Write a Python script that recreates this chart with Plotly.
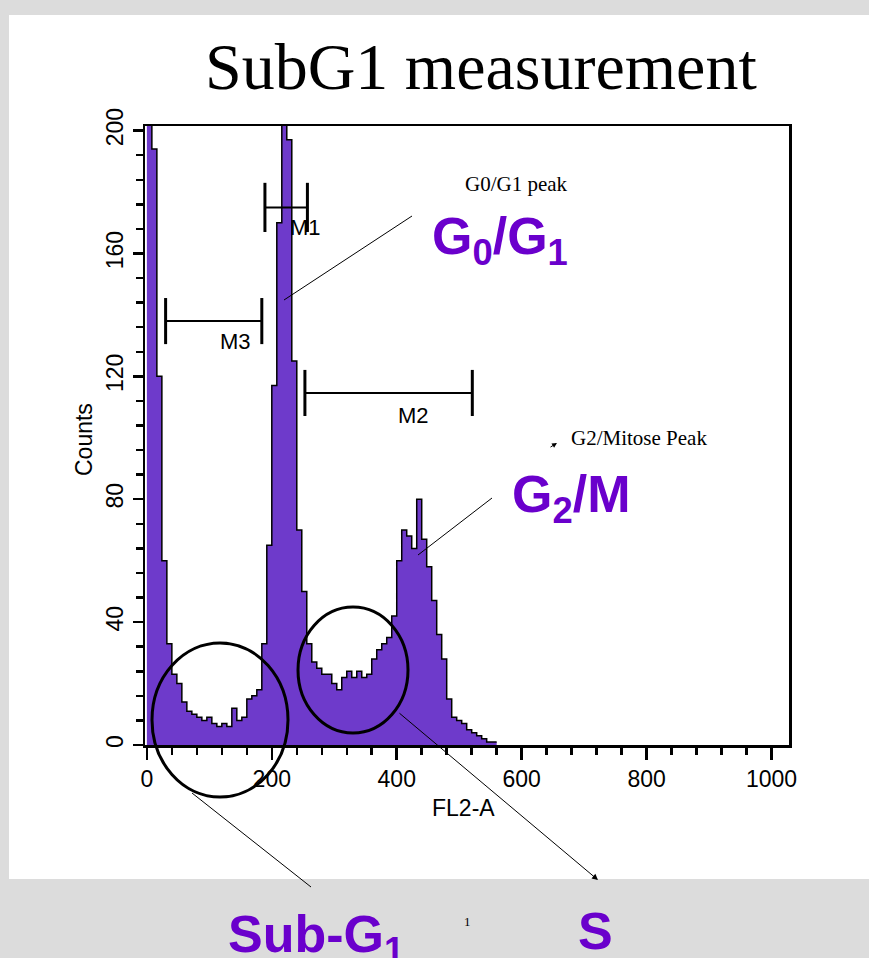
import plotly.graph_objects as go

W, H = 869, 958

# ---------------- data ----------------
bin_width = 8
counts = [230, 194, 120, 60, 33, 23, 20, 14, 11, 10,
          9, 8, 9, 7, 6, 7, 6, 12, 8, 9,
          15, 16, 18, 33, 65, 117, 170, 215, 197, 125,
          70, 50, 33, 27, 25, 23, 23, 20, 18, 22,
          24, 22, 24, 22, 23, 28, 31, 33, 35, 42,
          60, 70, 68, 64, 80, 67, 58, 47, 36, 28,
          15, 9, 8, 7, 5, 4, 3, 2, 1, 1]
bin_edges = [i * bin_width for i in range(len(counts) + 1)]

marker_names = ["M1", "M2", "M3"]
marker_start = [189, 253, 30]
marker_end = [257, 521, 184]
marker_level = [175, 114.6, 138]
marker_cap = [8, 7.5, 7.5]

x_ticks = [0, 200, 400, 600, 800, 1000]
y_ticks = [0, 40, 80, 120, 160, 200]

title_text = "SubG1 measurement"
x_title = "FL2-A"
y_title = "Counts"

PURPLE = "#6a00cc"
FILL = "#6e3acb"


def P(px, py):
    return px / W, 1 - py / H


fig = go.Figure()

# histogram as step area
xs = bin_edges
ys = counts + [counts[-1]]
fig.add_trace(go.Scatter(
    x=xs, y=ys, mode="lines", line_shape="hv",
    line=dict(color="black", width=1.5),
    fill="tozeroy", fillcolor=FILL, hoverinfo="skip", showlegend=False,
))

shapes = []
annotations = []

# white panel
x0, y0 = P(9, 15)
x1, y1 = P(869, 879)
shapes.append(dict(type="rect", xref="paper", yref="paper", x0=x0, x1=x1,
                   y0=y1, y1=y0, fillcolor="white", line_width=0, layer="below"))

# marker bars
for name, s, e, lv, cap in zip(marker_names, marker_start, marker_end, marker_level, marker_cap):
    shapes.append(dict(type="line", xref="x", yref="y", x0=s, x1=e, y0=lv, y1=lv,
                       line=dict(color="black", width=2)))
    for xx in (s, e):
        shapes.append(dict(type="line", xref="x", yref="y", x0=xx, x1=xx,
                           y0=lv - cap, y1=lv + cap, line=dict(color="black", width=3)))

label_pos = {"M1": (305, 228), "M2": (413, 415), "M3": (236, 341)}
for name in marker_names:
    lx, ly = P(*label_pos[name])
    annotations.append(dict(text=name, x=lx, y=ly, xref="paper", yref="paper",
                            showarrow=False, xanchor="center", yanchor="middle",
                            font=dict(family="Liberation Sans", size=22, color="black")))

# circles
for (a, b, c, d) in [(152, 643, 288, 797), (298, 607, 408, 733)]:
    cx0, cy0 = P(a, b)
    cx1, cy1 = P(c, d)
    shapes.append(dict(type="circle", xref="paper", yref="paper", x0=cx0, x1=cx1,
                       y0=cy1, y1=cy0, line=dict(color="black", width=3)))

# connector lines
for (a, b, c, d) in [(284, 300, 412, 216), (418, 555, 492, 498), (192, 793, 311, 887)]:
    lx0, ly0 = P(a, b)
    lx1, ly1 = P(c, d)
    shapes.append(dict(type="line", xref="paper", yref="paper", x0=lx0, x1=lx1,
                       y0=ly0, y1=ly1, line=dict(color="black", width=1)))

# arrow to S
tx, ty = P(598, 880)
annotations.append(dict(text="", x=tx, y=ty, xref="paper", yref="paper",
                        showarrow=True, ax=398 - 598, ay=712 - 880,
                        arrowhead=2, arrowsize=1.2, arrowwidth=1, arrowcolor="black"))
# tiny arrow near G2/Mitose Peak
tx, ty = P(557, 443)
annotations.append(dict(text="", x=tx, y=ty, xref="paper", yref="paper",
                        showarrow=True, ax=-8, ay=5,
                        arrowhead=2, arrowsize=1, arrowwidth=1, arrowcolor="black"))

# title
tx, ty = P(481, 66)
annotations.append(dict(text=title_text, x=tx, y=ty, xref="paper", yref="paper",
                        showarrow=False, xanchor="center", yanchor="middle",
                        font=dict(family="Liberation Serif", size=66, color="black")))

# small serif notes
for txt, (a, b) in [("G0/G1 peak", (463, 184)), ("G2/Mitose Peak", (569, 438))]:
    tx, ty = P(a, b)
    annotations.append(dict(text=txt, x=tx, y=ty, xref="paper", yref="paper",
                            showarrow=False, xanchor="left", yanchor="middle",
                            font=dict(family="Liberation Serif", size=21, color="black")))
tx, ty = P(467, 921)
annotations.append(dict(text="1", x=tx, y=ty, xref="paper", yref="paper",
                        showarrow=False, xanchor="center", yanchor="middle",
                        font=dict(family="Liberation Serif", size=13, color="black")))

# big purple labels
for txt, (a, b) in [("G<sub>0</sub>/G<sub>1</sub>", (430, 240)),
                    ("G<sub>2</sub>/M", (510, 498)),
                    ("Sub-G<sub>1</sub>", (226, 938)),
                    ("S", (576, 931))]:
    tx, ty = P(a, b)
    annotations.append(dict(text="<b>" + txt + "</b>", x=tx, y=ty, xref="paper", yref="paper",
                            showarrow=False, xanchor="left", yanchor="middle",
                            font=dict(family="Liberation Sans", size=52, color=PURPLE)))

# axis titles
tx, ty = P(84, 440)
annotations.append(dict(text=y_title, x=tx, y=ty, xref="paper", yref="paper",
                        showarrow=False, textangle=-90, xanchor="center", yanchor="middle",
                        font=dict(family="Liberation Sans", size=23, color="black")))
tx, ty = P(463, 808)
annotations.append(dict(text=x_title, x=tx, y=ty, xref="paper", yref="paper",
                        showarrow=False, xanchor="center", yanchor="middle",
                        font=dict(family="Liberation Sans", size=23, color="black")))

xd0 = 145 / W
xd1 = 789 / W
yd0 = 1 - 745 / H
yd1 = 1 - 126 / H

fig.update_layout(
    width=W, height=H,
    margin=dict(l=0, r=0, t=0, b=0, pad=0),
    paper_bgcolor="#dcdcdc",
    plot_bgcolor="white",
    showlegend=False,
    shapes=shapes,
    annotations=annotations,
    xaxis=dict(domain=[xd0, xd1], range=[-3, 1028], showgrid=False, zeroline=False,
               automargin=False,
               showline=True, linecolor="black", linewidth=2.5, mirror=True,
               tickmode="array", tickvals=x_ticks, ticktext=[str(v) for v in x_ticks],
               ticks="outside", ticklen=12, tickwidth=2.5, tickcolor="black",
               minor=dict(dtick=40, tick0=0, ticks="outside", ticklen=7, tickwidth=2.5, tickcolor="black"),
               tickfont=dict(family="Liberation Sans", size=23, color="black")),
    yaxis=dict(domain=[yd0, yd1], range=[0, 201.5], showgrid=False, zeroline=False,
               automargin=False,
               showline=True, linecolor="black", linewidth=2.5, mirror=True,
               tickmode="array", tickvals=y_ticks, ticktext=[str(v) for v in y_ticks],
               ticks="outside", ticklen=10, tickwidth=2.5, tickcolor="black", tickangle=-90,
               minor=dict(dtick=8, tick0=0, ticks="outside", ticklen=7, tickwidth=2.5, tickcolor="black"),
               tickfont=dict(family="Liberation Sans", size=23, color="black")),
)

post = (
    "document.documentElement.style.margin='0';"
    "document.documentElement.style.overflow='hidden';"
    "document.body.style.margin='0';document.body.style.padding='0';"
    "document.body.style.overflow='hidden';"
    "var gd=document.getElementById('{plot_id}');"
    "gd.style.position='fixed';gd.style.left='0px';gd.style.top='0px';"
)

fig.write_html("out.html", config={"displayModeBar": False, "staticPlot": True},
               post_script=post)
